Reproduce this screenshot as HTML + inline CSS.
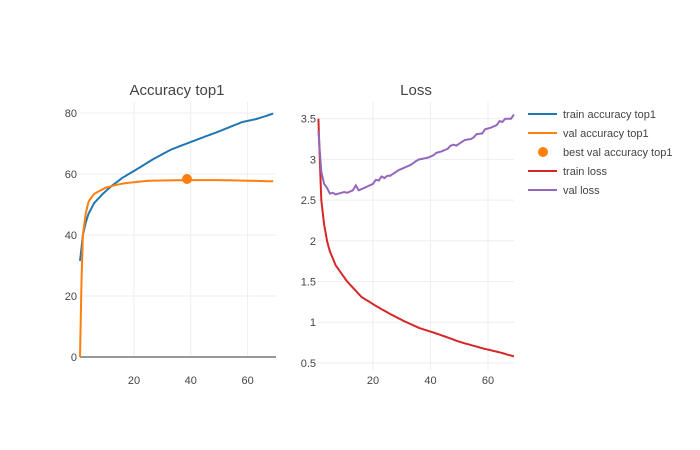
<!DOCTYPE html>
<html><head><meta charset="utf-8"><style>
body{margin:0;background:#fff;}
svg{display:block;font-family:"Liberation Sans",sans-serif;}
.t{font-size:11px;fill:#444;}
.ti{font-size:15px;fill:#444;}
.g{stroke:#eee;stroke-width:1;}
</style></head><body>
<svg id="s" width="700" height="450" viewBox="0 0 700 450">
<text class="ti" x="177" y="95" text-anchor="middle">Accuracy top1</text>
<text class="ti" x="416" y="95" text-anchor="middle">Loss</text>
<g id="grid"></g>
<line x1="80" y1="357" x2="276" y2="357" stroke="#777" stroke-width="1.5"/>
<g id="lines" fill="none" stroke-width="2"></g>
<circle cx="187" cy="179" r="5" fill="#ff7f0e"/>
<g class="t">
<line x1="528" y1="114" x2="557" y2="114" stroke="#1f77b4" stroke-width="2"/><text x="563" y="118">train accuracy top1</text>
<line x1="528" y1="133" x2="557" y2="133" stroke="#ff7f0e" stroke-width="2"/><text x="563" y="137">val accuracy top1</text>
<circle cx="543" cy="152" r="5" fill="#ff7f0e"/><text x="563" y="156">best val accuracy top1</text>
<line x1="528" y1="171" x2="557" y2="171" stroke="#d62728" stroke-width="2"/><text x="563" y="175">train loss</text>
<line x1="528" y1="190" x2="557" y2="190" stroke="#9467bd" stroke-width="2"/><text x="563" y="194">val loss</text>
</g>
</svg>
<script>
var NS="http://www.w3.org/2000/svg";
function el(p,n,a,t){var e=document.createElementNS(NS,n);for(var k in a)e.setAttribute(k,a[k]);if(t!==undefined)e.textContent=t;document.getElementById(p).appendChild(e);return e;}
var ax=function(x){return 77.2+x*2.84}, ay=function(v){return 357-v*3.05};
var lx=function(x){return 315.5+x*2.875}, ly=function(v){return 118.7+(3.5-v)*81.4};
// grids & labels
[20,40,60].forEach(function(v){
 el("grid","line",{x1:ax(v),x2:ax(v),y1:102,y2:357,class:"g"});
 el("grid","text",{x:ax(v),y:384,"text-anchor":"middle",class:"t"},v);
 el("grid","line",{x1:lx(v),x2:lx(v),y1:102,y2:370,class:"g"});
 el("grid","text",{x:lx(v),y:384,"text-anchor":"middle",class:"t"},v);
});
[0,20,40,60,80].forEach(function(v){
 if(v)el("grid","line",{x1:80,x2:276,y1:ay(v),y2:ay(v),class:"g"});
 el("grid","text",{x:77,y:ay(v)+4,"text-anchor":"end",class:"t"},v);
});
[0.5,1,1.5,2,2.5,3,3.5].forEach(function(v){
 el("grid","line",{x1:318,x2:514,y1:ly(v),y2:ly(v),class:"g"});
 el("grid","text",{x:316,y:ly(v)+4,"text-anchor":"end",class:"t"},v);
});
function interp(pts){var out=[];for(var x=1;x<=69;x+=0.5){for(var i=0;i<pts.length-1;i++){if(x>=pts[i][0]&&x<=pts[i+1][0]){var t=(x-pts[i][0])/(pts[i+1][0]-pts[i][0]);out.push([x,pts[i][1]+t*(pts[i+1][1]-pts[i][1])]);break;}}}return out;}
function smooth(pts){var o=[];for(var i=0;i<pts.length;i++)o.push(pts[i]);return o;}
function line(pts,fx,fy,c){el("lines","polyline",{points:interp(pts).map(function(p){return fx(p[0]).toFixed(1)+","+fy(p[1]).toFixed(1)}).join(" "),stroke:c});}
line([[1,31.5],[2,40],[3,44],[4,47],[6,50.5],[9,53.5],[12,56],[16,58.8],[20,61],[27,65],[33,68],[40,70.5],[50,74],[58,77],[63,78],[69,79.8]],ax,ay,"#1f77b4");
line([[1,0],[1.5,25],[2,40],[3,47],[4,51],[6,53.5],[10,55.5],[14,56.5],[17,57],[25,57.8],[39,58],[50,58],[60,57.8],[69,57.6]],ax,ay,"#ff7f0e");
line([[1,3.5],[2,2.5],[3,2.2],[4,2.0],[5,1.87],[7,1.7],[9,1.6],[11,1.5],[16,1.31],[21,1.2],[26,1.1],[31,1.01],[36,0.93],[43,0.85],[50,0.76],[58,0.68],[64,0.63],[69,0.58]],lx,ly,"#d62728");
line([[1,3.35],[2,2.85],[3,2.7],[4,2.65],[5,2.58],[6,2.59],[7,2.57],[8,2.58],[10,2.6],[11,2.59],[13,2.62],[14,2.68],[15,2.62],[17,2.65],[20,2.7],[21,2.75],[22,2.74],[23,2.79],[24,2.77],[25,2.8],[26,2.8],[29,2.87],[33,2.93],[35,2.98],[36,3.0],[39,3.02],[41,3.05],[42,3.08],[44,3.1],[46,3.13],[47,3.17],[48,3.18],[49,3.17],[52,3.24],[54,3.25],[55,3.27],[56,3.31],[58,3.32],[59,3.37],[61,3.39],[63,3.42],[64,3.47],[65,3.46],[66,3.5],[68,3.5],[69,3.55]],lx,ly,"#9467bd");
</script>
</body></html>
